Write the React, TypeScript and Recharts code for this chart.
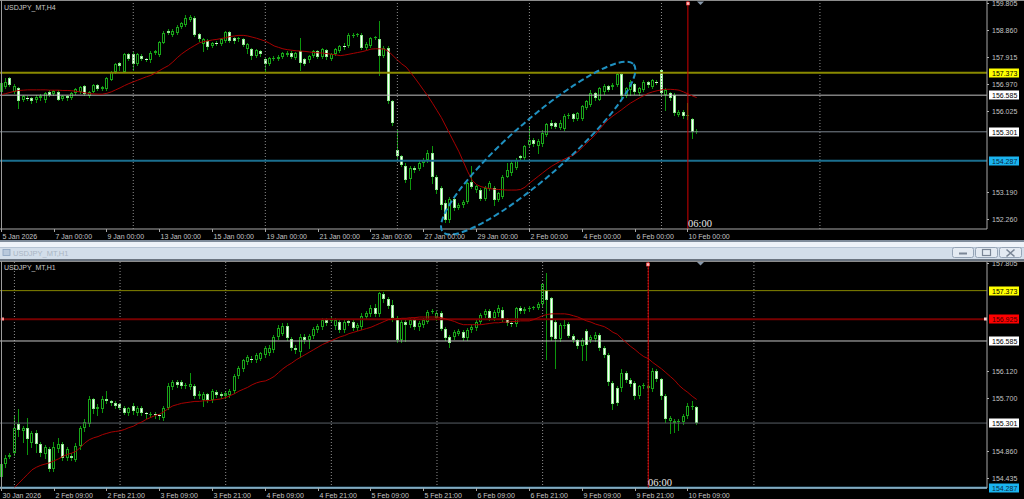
import React from 'react';
import { ComposedChart, Bar, Line, XAxis, YAxis, ReferenceLine, ReferenceDot } from 'recharts';

const SLOTS = 224;
const FONT = '"Liberation Sans", Arial, sans-serif';

// ---------- H4 panel data (USDJPY_MT,H4) ----------
const h4Open = [
156.71,156.86,157.17,156.71,156.82,156.43,156.50,156.48,156.40,156.47,
156.40,156.71,156.63,156.71,156.45,156.54,156.47,156.65,156.70,156.90,
156.56,156.71,156.94,156.79,156.80,157.13,157.40,157.70,157.40,158.02,
158.02,157.68,157.97,157.86,157.80,158.05,158.00,158.42,158.85,158.71,
158.77,158.96,159.05,159.22,159.30,158.73,158.37,158.48,158.31,158.42,
158.39,158.48,158.79,158.60,158.54,158.54,158.20,158.20,157.97,158.14,
157.85,157.68,157.84,157.85,157.91,158.00,158.08,157.89,158.12,157.85,
157.80,157.97,158.14,157.93,158.18,157.85,158.02,158.14,158.31,158.31,
158.69,158.70,158.71,158.25,158.30,158.60,158.57,157.97,158.25,156.37,
154.68,154.44,154.09,153.65,154.05,154.00,154.20,154.30,154.56,153.73,
153.32,152.79,152.20,152.96,152.62,152.73,152.85,153.55,153.26,153.26,
152.96,153.30,153.32,152.91,153.02,153.73,153.85,154.05,154.44,154.38,
154.85,155.03,154.79,154.86,155.20,155.62,155.60,155.45,155.40,155.85,
155.91,155.74,155.76,156.14,156.25,156.65,156.43,156.68,156.90,156.86,
156.94,157.32,156.56,156.77,156.97,156.65,156.77,157.05,156.88,157.05,
157.45,156.60,156.65,156.60,155.90,156.00,155.85,155.75,155.31];
const h4High = [
157.25,157.20,157.23,156.96,156.86,156.60,156.56,156.52,156.58,156.62,
156.70,156.75,156.78,156.76,156.58,156.58,156.70,156.84,156.90,156.94,
156.74,156.98,156.98,156.90,157.22,157.43,157.72,157.76,158.08,158.08,
158.10,158.06,158.02,157.90,158.12,158.18,158.50,158.85,158.90,158.90,
159.05,159.14,159.40,159.38,159.36,158.78,158.58,158.55,158.46,158.48,
158.60,158.83,158.83,158.64,158.64,158.60,158.42,158.24,158.20,158.18,
157.90,157.93,157.95,157.98,158.10,158.12,158.12,158.10,158.60,157.88,
158.00,158.18,158.18,158.24,158.22,158.06,158.25,158.36,158.40,158.75,
158.75,158.77,158.76,158.44,158.64,158.66,159.17,158.30,158.30,156.40,
155.38,154.50,154.20,154.12,154.12,154.28,154.38,154.68,154.80,153.80,
153.40,152.90,153.00,153.02,152.80,152.90,153.55,154.09,153.45,153.32,
153.40,153.56,153.40,153.20,153.80,154.20,154.30,154.40,154.50,154.85,
155.50,155.10,155.05,155.35,155.62,155.70,155.66,155.70,155.92,155.95,
155.96,156.00,156.25,156.42,156.75,156.70,156.88,156.96,156.95,157.00,
157.38,157.36,156.88,157.10,157.02,156.86,157.12,157.08,157.16,157.10,
157.51,156.82,156.70,156.65,156.08,156.05,156.31,155.80,155.40];
const h4Low = [
156.60,156.82,156.90,156.65,156.14,156.37,156.42,156.30,156.36,156.42,
156.36,156.55,156.60,156.40,156.40,156.42,156.44,156.62,156.66,156.60,
156.52,156.68,156.75,156.76,156.78,157.10,157.36,157.45,157.38,157.80,
157.45,157.64,157.80,157.78,157.76,158.02,157.97,158.40,158.72,158.66,
158.74,158.93,159.02,159.18,158.66,158.48,158.14,158.22,158.26,158.33,
158.35,158.45,158.44,158.42,158.50,158.30,158.05,157.85,157.93,157.97,
157.40,157.64,157.80,157.82,157.88,157.96,157.90,157.85,157.45,157.64,
157.76,157.93,157.87,157.90,157.86,157.80,157.98,158.10,158.20,158.28,
158.64,158.66,158.20,158.22,158.26,158.55,157.28,157.92,156.30,155.55,
154.40,154.10,153.55,153.30,153.90,153.95,154.12,154.25,153.50,153.15,
152.60,152.14,152.14,152.55,152.58,152.68,152.80,153.32,153.20,152.90,
152.90,153.25,152.75,152.88,152.97,153.70,153.80,154.00,154.30,154.33,
154.80,154.80,154.55,154.80,155.15,155.45,155.44,155.40,155.35,155.80,
155.68,155.70,155.72,156.10,156.20,156.42,156.40,156.64,156.72,156.80,
156.90,156.50,156.52,156.60,156.62,156.60,156.72,156.88,156.84,156.96,
156.60,156.08,156.42,155.90,155.85,155.80,155.75,155.09,155.25];
const h4Close = [
157.00,157.05,156.94,156.90,156.37,156.54,156.48,156.38,156.53,156.56,
156.65,156.60,156.74,156.43,156.54,156.47,156.65,156.79,156.86,156.63,
156.71,156.94,156.79,156.86,157.17,157.40,157.68,157.59,158.02,157.85,
157.68,158.02,157.85,157.84,158.08,158.14,158.46,158.77,158.77,158.85,
158.99,159.11,159.28,159.34,158.71,158.54,158.54,158.28,158.42,158.37,
158.54,158.79,158.48,158.48,158.60,158.34,158.39,157.97,158.16,158.02,
157.68,157.89,157.89,157.93,158.06,158.08,157.93,158.06,157.72,157.68,
157.97,158.14,157.91,158.20,157.91,158.02,158.20,158.31,158.28,158.71,
158.70,158.72,158.25,158.39,158.60,158.62,157.97,158.25,156.37,155.62,
154.44,154.15,153.62,154.05,153.97,154.20,154.32,154.56,153.73,153.26,
152.73,152.20,152.96,152.62,152.73,152.85,153.50,153.38,153.40,152.96,
153.32,153.50,152.91,153.14,153.73,153.97,154.20,154.32,154.38,154.79,
155.03,154.86,154.97,155.27,155.56,155.50,155.48,155.62,155.85,155.88,
155.74,155.95,156.20,156.37,156.65,156.48,156.82,156.90,156.77,156.95,
157.34,156.56,156.82,157.05,156.68,156.82,157.05,156.94,157.11,157.00,
156.65,156.77,156.48,155.97,156.00,155.85,155.90,155.31,155.34];
const h4MA = [
156.60,156.64,156.68,156.72,156.75,156.76,156.77,156.77,156.77,156.77,
156.77,156.76,156.76,156.76,156.75,156.75,156.74,156.72,156.70,156.67,
156.64,156.63,156.62,156.62,156.65,156.70,156.77,156.84,156.92,156.99,
157.05,157.11,157.17,157.23,157.28,157.36,157.45,157.54,157.62,157.75,
157.90,158.03,158.14,158.24,158.33,158.42,158.46,158.49,158.52,158.54,
158.57,158.60,158.64,158.66,158.68,158.68,158.66,158.62,158.58,158.53,
158.48,158.40,158.31,158.26,158.21,158.18,158.16,158.14,158.13,158.12,
158.10,158.08,158.07,158.06,158.04,158.02,158.00,157.97,157.99,158.02,
158.05,158.08,158.11,158.15,158.20,158.21,158.21,158.20,158.12,157.97,
157.82,157.68,157.57,157.38,157.18,156.97,156.75,156.54,156.30,156.05,
155.80,155.50,155.20,154.90,154.60,154.25,153.90,153.60,153.45,153.38,
153.34,153.31,153.29,153.28,153.27,153.26,153.26,153.26,153.28,153.36,
153.50,153.62,153.74,153.86,153.98,154.09,154.18,154.27,154.35,154.42,
154.48,154.60,154.75,154.90,155.05,155.20,155.40,155.58,155.74,155.86,
155.97,156.08,156.20,156.31,156.40,156.49,156.57,156.65,156.70,156.74,
156.77,156.79,156.79,156.78,156.76,156.70,156.63,156.56,156.50];

const h4TickBars = [0, 12, 24, 36, 48, 60, 72, 84, 96, 108, 120, 132, 144, 156];
const h4TickLabels = ['5 Jan 2026', '7 Jan 00:00', '9 Jan 00:00', '13 Jan 00:00', '15 Jan 00:00', '19 Jan 00:00', '21 Jan 00:00', '23 Jan 00:00', '27 Jan 00:00', '29 Jan 00:00', '2 Feb 00:00', '4 Feb 00:00', '6 Feb 00:00', '10 Feb 00:00'];
// visible price-scale ticks (those covered by the level boxes are left out)
const h4PriceTicks = [159.805, 158.86, 157.915, 156.97, 156.025, 153.19, 152.26];
const h4Levels = [157.373, 156.585, 155.301, 154.287];
const h4GridBars = [30, 60, 90, 120, 150, 186];
const h4CursorBar = 156;
const h4Ellipse = { bar: 122, price: 154.73 };

// ---------- H1 panel data (USDJPY_MT,H1) ----------
const h1Open = [
154.45,154.66,154.77,154.84,155.28,155.18,155.23,154.99,155.15,154.97,
154.82,154.89,154.58,154.89,154.97,154.76,154.79,154.73,154.94,155.23,
155.28,155.67,155.52,155.52,155.67,155.64,155.62,155.60,155.54,155.46,
155.57,155.46,155.54,155.46,155.44,155.45,155.43,155.38,155.54,155.87,
155.95,155.95,155.88,155.86,155.88,155.72,155.66,155.75,155.66,155.79,
155.76,155.72,155.74,155.80,156.04,156.14,156.26,156.31,156.29,156.31,
156.37,156.39,156.45,156.65,156.70,156.82,156.61,156.48,156.42,156.65,
156.60,156.66,156.76,156.81,156.92,156.91,156.82,156.89,156.76,156.90,
156.89,156.79,156.81,156.96,157.00,157.10,157.00,157.32,157.24,157.15,
156.94,156.60,156.89,156.84,156.92,156.80,156.84,156.89,157.04,156.94,
157.02,156.78,156.65,156.65,156.70,156.73,156.63,156.76,156.79,156.88,
156.99,157.06,156.95,157.02,157.07,156.93,156.86,156.85,157.10,157.06,
157.08,157.10,157.10,157.16,157.38,157.25,156.88,156.61,156.82,156.85,
156.67,156.60,156.50,156.74,156.60,156.62,156.68,156.47,156.37,155.93,
155.85,155.85,156.09,155.98,155.93,155.72,155.88,155.85,155.83,156.12,
155.99,155.72,155.33,155.30,155.32,155.31,155.41,155.55,155.55];
const h1High = [
154.70,154.80,154.83,155.41,155.52,155.26,155.38,155.18,155.20,155.00,
154.95,154.93,155.00,155.07,155.00,154.92,154.84,154.99,155.26,155.36,
155.72,155.70,155.60,155.72,155.80,155.66,155.65,155.62,155.57,155.56,
155.62,155.57,155.57,155.48,155.47,155.47,155.45,155.57,155.93,155.97,
155.98,155.98,155.93,156.09,155.92,155.80,155.79,155.77,155.83,155.82,
155.79,155.80,155.84,156.07,156.20,156.31,156.37,156.35,156.40,156.42,
156.50,156.52,156.68,156.84,156.86,156.86,156.65,156.52,156.70,156.70,
156.70,156.81,156.85,156.94,156.95,156.96,156.94,156.92,156.92,156.93,
156.92,156.87,157.02,157.06,157.15,157.17,157.35,157.35,157.27,157.22,
156.97,156.92,156.93,156.95,156.95,156.90,156.94,157.07,157.09,157.06,
157.05,156.80,156.68,156.76,156.78,156.76,156.79,156.83,156.92,157.02,
157.09,157.09,157.07,157.15,157.12,156.95,156.90,157.12,157.13,157.11,
157.13,157.14,157.19,157.50,157.65,157.28,156.92,156.86,156.92,156.88,
156.69,156.62,156.63,156.77,156.68,156.72,156.71,156.50,156.40,155.96,
155.88,156.14,156.12,156.00,155.96,155.90,155.93,155.92,156.16,156.15,
156.01,155.75,155.41,155.36,155.37,155.44,155.62,155.64,155.57];
const h1Low = [
154.35,154.62,154.75,154.80,155.10,155.00,154.82,154.93,154.85,154.78,
154.75,154.55,154.55,154.85,154.72,154.72,154.72,154.70,154.90,155.18,
155.25,155.46,155.42,155.48,155.62,155.58,155.54,155.52,155.44,155.42,
155.45,155.42,155.43,155.38,155.40,155.38,155.36,155.35,155.52,155.84,
155.86,155.85,155.85,155.84,155.70,155.70,155.57,155.63,155.63,155.71,
155.70,155.69,155.71,155.77,156.00,156.11,156.23,156.26,156.26,156.28,
156.34,156.36,156.42,156.62,156.68,156.60,156.44,156.40,156.34,156.55,
156.47,156.63,156.73,156.78,156.84,156.88,156.78,156.73,156.72,156.84,
156.76,156.76,156.78,156.94,156.97,156.98,156.97,157.20,157.10,156.90,
156.57,156.57,156.58,156.81,156.77,156.75,156.81,156.86,157.02,156.92,
156.75,156.60,156.49,156.62,156.68,156.60,156.60,156.73,156.76,156.86,
156.96,156.91,156.92,156.98,156.90,156.83,156.82,156.82,157.02,157.03,
157.06,157.08,157.08,157.12,156.30,156.60,156.17,156.58,156.79,156.64,
156.57,156.47,156.29,156.29,156.57,156.58,156.44,156.34,155.90,155.52,
155.58,155.80,155.95,155.88,155.67,155.70,155.85,155.82,155.80,155.96,
155.68,155.32,155.15,155.16,155.20,155.28,155.38,155.52,155.29];
const h1Close = [
154.66,154.76,154.80,155.22,155.20,155.23,155.05,155.15,154.97,154.84,
154.92,154.58,154.92,154.97,154.76,154.89,154.76,154.94,155.23,155.31,
155.67,155.52,155.55,155.67,155.65,155.61,155.57,155.54,155.46,155.54,
155.49,155.54,155.46,155.44,155.45,155.43,155.41,155.54,155.88,155.94,
155.90,155.88,155.90,155.91,155.72,155.76,155.75,155.66,155.80,155.74,
155.72,155.77,155.81,156.04,156.16,156.28,156.33,156.29,156.37,156.39,
156.47,156.47,156.65,156.79,156.82,156.63,156.47,156.45,156.65,156.60,
156.66,156.77,156.82,156.92,156.87,156.92,156.91,156.76,156.89,156.87,
156.79,156.84,156.98,157.03,157.10,157.01,157.33,157.24,157.13,156.94,
156.60,156.89,156.84,156.92,156.80,156.86,156.92,157.04,157.06,157.02,
156.78,156.63,156.55,156.73,156.74,156.63,156.76,156.80,156.89,156.99,
157.06,156.94,157.04,157.10,156.93,156.86,156.85,157.10,157.05,157.08,
157.10,157.11,157.16,157.47,157.23,156.65,156.61,156.83,156.84,156.67,
156.60,156.50,156.60,156.53,156.65,156.68,156.47,156.37,155.95,155.60,
155.62,156.09,155.98,155.91,155.72,155.88,155.90,155.88,156.12,155.99,
155.72,155.36,155.38,155.33,155.34,155.41,155.57,155.57,155.30];
const h1MA = [
null,null,null,154.29,154.36,154.43,154.50,154.57,154.61,154.64,
154.66,154.68,154.71,154.74,154.78,154.81,154.83,154.86,154.92,154.99,
155.04,155.07,155.09,155.12,155.14,155.16,155.17,155.18,155.20,155.23,
155.25,155.29,155.32,155.36,155.39,155.42,155.44,155.48,155.53,155.57,
155.59,155.61,155.62,155.63,155.64,155.64,155.65,155.65,155.66,155.67,
155.68,155.70,155.73,155.76,155.80,155.83,155.86,155.90,155.93,155.95,
155.96,155.99,156.03,156.09,156.15,156.20,156.24,156.29,156.33,156.37,
156.41,156.45,156.49,156.53,156.56,156.59,156.62,156.65,156.67,156.70,
156.72,156.74,156.76,156.78,156.80,156.83,156.86,156.89,156.92,156.93,
156.93,156.94,156.94,156.95,156.95,156.96,156.96,156.96,156.96,156.96,
156.95,156.93,156.91,156.89,156.86,156.84,156.84,156.84,156.84,156.84,
156.85,156.86,156.87,156.87,156.88,156.88,156.89,156.89,156.90,156.90,
156.90,156.92,156.95,156.98,157.00,157.01,157.01,157.01,157.01,157.00,
156.98,156.96,156.93,156.90,156.88,156.85,156.83,156.81,156.77,156.72,
156.69,156.62,156.56,156.50,156.45,156.39,156.34,156.31,156.25,156.20,
156.15,156.09,156.03,155.97,155.89,155.83,155.78,155.72,155.67];

const h1TickBars = [0, 12, 24, 36, 48, 60, 72, 84, 96, 108, 120, 132, 144, 156];
const h1TickLabels = ['30 Jan 2026', '2 Feb 09:00', '2 Feb 21:00', '3 Feb 09:00', '3 Feb 21:00', '4 Feb 09:00', '4 Feb 21:00', '5 Feb 09:00', '5 Feb 21:00', '6 Feb 09:00', '6 Feb 21:00', '9 Feb 09:00', '9 Feb 21:00', '10 Feb 09:00'];
// visible price-scale ticks (those covered by the level boxes are left out)
const h1PriceTicks = [157.805, 156.12, 155.7, 154.86, 154.435];
const h1Levels = [157.373, 156.925, 156.585, 155.301, 154.287];
const h1GridBars = [3, 27, 51, 75, 99, 123, 147, 171];
const h1CursorBar = 147;
const cursorLabel = '06:00';

// ---------- styles ----------
const topLevelStyle = [
  { line: '#8a8a00', w: 2, box: '#ffff00', txt: '#000000' },
  { line: '#bfbfbf', w: 1, box: '#ffffff', txt: '#000000' },
  { line: '#7c8690', w: 1, box: '#ffffff', txt: '#000000' },
  { line: '#1b6f8f', w: 2, box: '#1ab4f0', txt: '#0b2a40' },
];
const botLevelStyle = [
  { line: '#858500', w: 1, box: '#ffff00', txt: '#000000' },
  { line: '#780000', w: 2, box: '#ff0000', txt: '#3a0000' },
  { line: '#c4c4c4', w: 1, box: '#ffffff', txt: '#000000' },
  { line: '#585e66', w: 1, box: '#ffffff', txt: '#000000' },
  { line: '#56aede', w: 2, box: '#1ab4f0', txt: '#0b2a40' },
];

function buildRows(o: number[], h: number[], l: number[], c: number[], ma: (number | null)[]) {
  const rows: any[] = [];
  for (let i = 0; i < SLOTS; i++) {
    const has = i < o.length;
    rows.push({
      i,
      hl: has ? [l[i], h[i]] : null,
      o: has ? o[i] : null,
      h: has ? h[i] : null,
      l: has ? l[i] : null,
      c: has ? c[i] : null,
      ma: has ? ma[i] : null,
    });
  }
  return rows;
}

const topRows = buildRows(h4Open, h4High, h4Low, h4Close, h4MA);
const botRows = buildRows(h1Open, h1High, h1Low, h1Close, h1MA);

function Candle(props: any) {
  const { x, y, width, height, payload } = props;
  if (!payload || payload.hl == null || x == null || y == null) return null;
  const { o, h, l, c } = payload;
  const yHi = Math.min(y, y + height);
  const yLo = Math.max(y, y + height);
  const span = h - l;
  const py = (v: number) => (span > 0 ? yHi + ((h - v) / span) * (yLo - yHi) : yHi);
  const cx = Math.floor(x + width / 2);
  const bull = c > o;
  const t = Math.round(py(Math.max(o, c)));
  const b = Math.round(py(Math.min(o, c)));
  const wick = '#0c960c';
  return (
    <g>
      <line x1={cx + 0.5} x2={cx + 0.5} y1={Math.round(yHi)} y2={Math.round(yLo) + 1} stroke={wick} strokeWidth={1} />
      {b - t < 2 ? (
        <rect x={cx - 1} y={t} width={3} height={Math.max(1, b - t)} fill={bull ? '#1aa81a' : '#d8f8d8'} />
      ) : (
        <rect x={cx - 0.5} y={t + 0.5} width={2} height={b - t - 1} fill={bull ? '#000000' : '#ffffff'} stroke={bull ? '#1aa51a' : '#8ee88e'} strokeWidth={1} />
      )}
    </g>
  );
}

function makeTimeTick(bars: number[], labels: string[]) {
  return (props: any) => {
    const { x, y, payload } = props;
    const k = bars.indexOf(payload.value);
    if (k < 0) return <g />;
    const px = Math.floor(x) + 0.5;
    return (
      <g>
        <line x1={px} x2={px} y1={y} y2={y + 3} stroke="#a8a8a8" strokeWidth={1} />
        <text x={px + 1} y={y + 10} fill="#c4c4c4" fontSize={7} fontFamily={FONT}>{labels[k]}</text>
      </g>
    );
  };
}

function PriceTick(props: any) {
  const { x, y, payload } = props;
  const py = Math.round(y) + 0.5;
  return (
    <g>
      <line x1={x} x2={x + 2} y1={py} y2={py} stroke="#b0b0b0" strokeWidth={1} />
      <text x={x + 5} y={py + 2.5} fill="#c4c4c4" fontSize={7} fontFamily={FONT}>{Number(payload.value).toFixed(3)}</text>
    </g>
  );
}

function makePriceBox(value: number, st: any, marker: boolean) {
  return (props: any) => {
    const vb = props.viewBox || {};
    const yy = Math.round(vb.y);
    return (
      <g>
        {marker && <rect x={2} y={yy - 1.5} width={3} height={3} fill="#ff9090" />}
        {marker && <rect x={985} y={yy - 1.5} width={3} height={3} fill="#ffd0d0" />}
        <rect x={990} y={yy - 4.5} width={30} height={9} fill={st.box} />
        <text x={993} y={yy + 2.5} fill={st.txt} fontSize={7} fontFamily={FONT}>{value.toFixed(3)}</text>
      </g>
    );
  };
}

function makeCursorLabel(text: string) {
  return (props: any) => {
    const vb = props.viewBox || {};
    const lx = Math.round(vb.x);
    return (
      <g>
        <rect x={lx - 1.5} y={vb.y + 1} width={3} height={3} fill="#ffc0c0" stroke="#ff4040" strokeWidth={0.6} />
        <text x={lx} y={vb.y + vb.height - 2} fill="#e8e8e8" fontSize={10.5} fontFamily='"Liberation Serif", "DejaVu Serif", serif'>{text}</text>
      </g>
    );
  };
}

function EllipseShape(props: any) {
  const { cx, cy } = props;
  return (
    <ellipse cx={cx} cy={cy} rx={127} ry={28} transform={`rotate(-41.3 ${cx} ${cy})`} fill="none" stroke="#1f90c0" strokeWidth={2} strokeDasharray="6 3" />
  );
}

function Panel(props: {
  rows: any[]; height: number; marginTop: number; xHeight: number; domain: [number, number];
  priceTicks: number[]; tickBars: number[]; tickLabels: string[]; levels: number[]; levelStyle: any[];
  gridBars: number[]; cursorBar: number; ellipse?: { bar: number; price: number }; markerLevel?: number;
}) {
  const p = props;
  return (
    <ComposedChart width={1025} height={p.height} data={p.rows} margin={{ top: p.marginTop, right: 0, bottom: 0, left: 0 }} barCategoryGap={1}>
      <XAxis dataKey="i" type="category" interval={0} height={p.xHeight} padding={{ left: 0, right: 2 }}
        tick={makeTimeTick(p.tickBars, p.tickLabels)} tickLine={false} tickSize={0} tickMargin={0}
        axisLine={{ stroke: '#a8a8a8', strokeWidth: 1 }} />
      <YAxis orientation="right" width={37} domain={p.domain} allowDataOverflow ticks={p.priceTicks} interval={0}
        tick={PriceTick} tickLine={false} tickSize={0} tickMargin={0} axisLine={{ stroke: '#a8a8a8', strokeWidth: 1 }} />
      {p.gridBars.map((g) => (
        <ReferenceLine key={'g' + g} x={g} stroke="#8e8e8e" strokeWidth={1} strokeDasharray="1 2" />
      ))}
      {p.levels.map((lv, k) => (
        <ReferenceLine key={'l' + lv} y={lv} stroke={p.levelStyle[k].line} strokeWidth={p.levelStyle[k].w} ifOverflow="visible"
          label={makePriceBox(lv, p.levelStyle[k], p.markerLevel === lv)} />
      ))}
      <Bar dataKey="hl" isAnimationActive={false} shape={(sp: any) => <Candle {...sp} />} />
      <Line dataKey="ma" type="linear" stroke="#a80000" strokeWidth={1} dot={false} activeDot={false} isAnimationActive={false} />
      <ReferenceLine x={p.cursorBar} stroke="#d00000" strokeWidth={1} label={makeCursorLabel(cursorLabel)} />
      {p.ellipse && (
        <ReferenceDot x={p.ellipse.bar} y={p.ellipse.price} ifOverflow="visible" shape={(sp: any) => <EllipseShape {...sp} />} />
      )}
    </ComposedChart>
  );
}

export default function App() {
  return (
    <div style={{ position: 'absolute', left: 0, top: 0, width: 1024, height: 499, background: '#000', overflow: 'hidden', fontFamily: FONT }}>
      <div style={{ position: 'absolute', left: -1, top: 0 }}>
        <Panel rows={topRows} height={241} marginTop={1} xHeight={12} domain={[151.895, 159.885]}
          priceTicks={h4PriceTicks} tickBars={h4TickBars} tickLabels={h4TickLabels}
          levels={h4Levels} levelStyle={topLevelStyle} gridBars={h4GridBars} cursorBar={h4CursorBar} ellipse={h4Ellipse} />
      </div>
      <div style={{ position: 'absolute', left: -1, top: 260 }}>
        <Panel rows={botRows} height={239} marginTop={2} xHeight={11} domain={[154.285, 157.821]}
          priceTicks={h1PriceTicks} tickBars={h1TickBars} tickLabels={h1TickLabels}
          levels={h1Levels} levelStyle={botLevelStyle} gridBars={h1GridBars} cursorBar={h1CursorBar} markerLevel={156.925} />
      </div>
      {/* window chrome between the two panels */}
      <div style={{ position: 'absolute', left: 0, top: 240, width: 1024, height: 2, background: '#7f8c9b' }} />
      <div style={{ position: 'absolute', left: 0, top: 242, width: 1024, height: 5, background: '#eef3f9' }} />
      <div style={{ position: 'absolute', left: 0, top: 247, width: 1024, height: 1, background: '#b6c4d4' }} />
      <div style={{ position: 'absolute', left: 0, top: 248, width: 1024, height: 11, background: '#d3deea' }} />
      <div style={{ position: 'absolute', left: 0, top: 259, width: 1024, height: 2, background: '#6a7480' }} />
      <svg style={{ position: 'absolute', left: 0, top: 0 }} width={1024} height={499}>
        <rect x={0} y={0} width={1024} height={1} fill="#8c8c8c" />
        <rect x={1} y={0} width={1} height={229} fill="#9c9c9c" />
        <rect x={0} y={261} width={1024} height={1} fill="#8c8c8c" />
        <rect x={1} y={261} width={1} height={228} fill="#9c9c9c" />
        <polygon points="697,1.5 704,1.5 700.5,5" fill="#8898aa" />
        <polygon points="697,262 704,262 700.5,265.5" fill="#8898aa" />
        <text x={4} y={10} fill="#c8c8c8" fontSize={7} fontFamily={FONT}>USDJPY_MT,H4</text>
        <text x={4} y={270} fill="#c8c8c8" fontSize={7} fontFamily={FONT}>USDJPY_MT,H1</text>
        <rect x={3} y={249.5} width={7} height={6} fill="#b9c9dc" stroke="#8aa2bf" strokeWidth={0.8} />
        <text x={13} y={256} fill="#a9b5c3" fontSize={7.5} fontFamily={FONT}>USDJPY_MT,H1</text>
        <rect x={952.5} y={247.5} width={21} height={10} rx={2} fill="#e3eaf2" stroke="#95a4b6" />
        <rect x={975.5} y={247.5} width={22} height={10} rx={2} fill="#e3eaf2" stroke="#95a4b6" />
        <rect x={999.5} y={247.5} width={22} height={10} rx={2} fill="#e3eaf2" stroke="#95a4b6" />
        <line x1={959} x2={967} y1={253.5} y2={253.5} stroke="#7a8696" strokeWidth={2} />
        <rect x={982.5} y={249.5} width={8} height={6} fill="none" stroke="#7a8696" strokeWidth={1.2} />
        <path d="M1006.5,249.5 L1014.5,256.5 M1014.5,249.5 L1006.5,256.5" stroke="#7a8696" strokeWidth={1.6} />
      </svg>
    </div>
  );
}
